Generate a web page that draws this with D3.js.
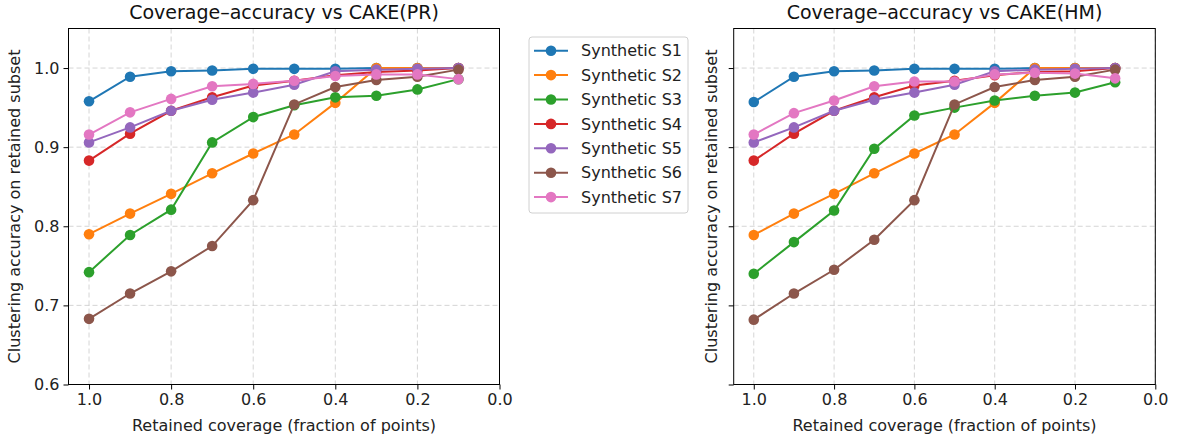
<!DOCTYPE html>
<html>
<head>
<meta charset="utf-8">
<script src="https://cdn.jsdelivr.net/npm/d3@7"></script>
<style>
  body { margin: 0; background: #fff; }
  svg { font-family: "DejaVu Sans", sans-serif; }
</style>
</head>
<body>
<svg id="chart" width="1193" height="439"></svg>
<script>
// coverage levels (x)
var coverage = [1.0, 0.9, 0.8, 0.7, 0.6, 0.5, 0.4, 0.3, 0.2, 0.1];
var seriesNames = ["Synthetic S1", "Synthetic S2", "Synthetic S3", "Synthetic S4", "Synthetic S5", "Synthetic S6", "Synthetic S7"];
var colors = ["#1f77b4", "#ff7f0e", "#2ca02c", "#d62728", "#9467bd", "#8c564b", "#e377c2"];
var xTicks = [1.0, 0.8, 0.6, 0.4, 0.2, 0.0];
var yTicks = [0.6, 0.7, 0.8, 0.9, 1.0];

// CAKE(PR)
var prS1 = [0.958, 0.989, 0.996, 0.997, 0.999, 0.999, 0.999, 1.0, 1.0, 1.0];
var prS2 = [0.790, 0.816, 0.841, 0.867, 0.892, 0.916, 0.956, 1.0, 1.0, 1.0];
var prS3 = [0.742, 0.789, 0.821, 0.906, 0.938, 0.953, 0.963, 0.965, 0.973, 0.986];
var prS4 = [0.883, 0.917, 0.946, 0.963, 0.978, 0.984, 0.991, 0.995, 0.997, 1.0];
var prS5 = [0.906, 0.925, 0.946, 0.960, 0.969, 0.979, 0.996, 0.998, 0.999, 1.0];
var prS6 = [0.683, 0.715, 0.743, 0.775, 0.833, 0.954, 0.976, 0.985, 0.989, 0.998];
var prS7 = [0.916, 0.944, 0.961, 0.977, 0.980, 0.984, 0.990, 0.992, 0.992, 0.986];

// CAKE(HM)
var hmS1 = [0.957, 0.989, 0.996, 0.997, 0.999, 0.999, 0.999, 1.0, 1.0, 1.0];
var hmS2 = [0.789, 0.816, 0.841, 0.867, 0.892, 0.916, 0.956, 1.0, 1.0, 1.0];
var hmS3 = [0.740, 0.780, 0.820, 0.898, 0.940, 0.950, 0.959, 0.965, 0.969, 0.982];
var hmS4 = [0.883, 0.917, 0.946, 0.963, 0.978, 0.984, 0.991, 0.995, 0.996, 1.0];
var hmS5 = [0.906, 0.925, 0.946, 0.960, 0.969, 0.979, 0.996, 0.998, 0.999, 1.0];
var hmS6 = [0.682, 0.715, 0.745, 0.783, 0.833, 0.954, 0.976, 0.985, 0.989, 0.998];
var hmS7 = [0.916, 0.943, 0.959, 0.977, 0.983, 0.983, 0.992, 0.994, 0.993, 0.987];

var svg = d3.select("#chart");

var plotTop = 28.5, plotBottom = 384.5;
var yScale = d3.scaleLinear().domain([0.6, 1.05]).range([plotBottom, plotTop]);

function drawPanel(left, right, title, data, showYLabels) {
    var xScale = d3.scaleLinear().domain([1.05, 0]).range([left, right]);
    var g = svg.append("g");

    // grid
    g.selectAll(".gx").data(xTicks).enter().append("line")
        .attr("x1", d => xScale(d)).attr("x2", d => xScale(d))
        .attr("y1", plotTop).attr("y2", plotBottom)
        .style("stroke", "#b0b0b0").style("stroke-opacity", 0.6)
        .style("stroke-width", 0.9).style("stroke-dasharray", "5,3");
    g.selectAll(".gy").data(yTicks).enter().append("line")
        .attr("x1", left).attr("x2", right)
        .attr("y1", d => yScale(d)).attr("y2", d => yScale(d))
        .style("stroke", "#b0b0b0").style("stroke-opacity", 0.6)
        .style("stroke-width", 0.9).style("stroke-dasharray", "5,3");

    // axes
    g.append("g")
        .attr("transform", `translate(0,${plotBottom})`)
        .call(d3.axisBottom(xScale).tickValues(xTicks).tickFormat(d3.format(".1f")).tickSizeOuter(0).tickSize(5).tickPadding(4));
    g.append("g")
        .attr("transform", `translate(${left},0)`)
        .call(d3.axisLeft(yScale).tickValues(yTicks).tickFormat(showYLabels ? d3.format(".1f") : "").tickSizeOuter(0).tickSize(5).tickPadding(4));
    g.selectAll(".domain").remove();
    g.selectAll(".tick line").style("stroke", "#000").style("stroke-width", 1);
    g.selectAll(".tick text").style("font-size", "16px").style("fill", "#222")
        .style("font-family", "DejaVu Sans");

    // frame
    g.append("rect")
        .attr("x", left).attr("y", plotTop)
        .attr("width", right - left).attr("height", plotBottom - plotTop)
        .style("fill", "none").style("stroke", "#000").style("stroke-width", 1);

    // lines and markers
    var line = d3.line()
        .x((d, i) => xScale(coverage[i]))
        .y(d => yScale(d));

    data.forEach(function(vals, k) {
        g.append("path")
            .datum(vals)
            .attr("d", line)
            .style("fill", "none")
            .style("stroke", colors[k])
            .style("stroke-width", 2);
        g.selectAll(".dot" + k)
            .data(vals)
            .enter().append("circle")
            .attr("cx", (d, i) => xScale(coverage[i]))
            .attr("cy", d => yScale(d))
            .attr("r", 5.3)
            .style("fill", colors[k]);
    });

    // title and labels
    g.append("text")
        .attr("x", (left + right) / 2).attr("y", 19)
        .attr("text-anchor", "middle")
        .style("font-size", "19px").style("fill", "#111")
        .text(title);
    g.append("text")
        .attr("x", (left + right) / 2).attr("y", 431)
        .attr("text-anchor", "middle")
        .style("font-size", "16px").style("fill", "#222")
        .text("Retained coverage (fraction of points)");
    var ylx = showYLabels ? 20 : left - 17;
    g.append("text")
        .attr("transform", `translate(${ylx},${(plotTop + plotBottom) / 2}) rotate(-90)`)
        .attr("text-anchor", "middle")
        .style("font-size", "16px").style("fill", "#222")
        .text("Clustering accuracy on retained subset");
}

drawPanel(68.5, 499.5, "Coverage\u2013accuracy vs CAKE(PR)", [prS1, prS2, prS3, prS4, prS5, prS6, prS7], true);
drawPanel(733.7, 1155.3, "Coverage\u2013accuracy vs CAKE(HM)", [hmS1, hmS2, hmS3, hmS4, hmS5, hmS6, hmS7], false);

// legend
var legend = svg.append("g");
legend.append("rect")
    .attr("x", 529).attr("y", 37)
    .attr("width", 159).attr("height", 176)
    .attr("rx", 3)
    .style("fill", "#fff").style("fill-opacity", 0.8)
    .style("stroke", "#d0d0d0").style("stroke-width", 1);

var items = legend.selectAll(".item")
    .data(seriesNames)
    .enter().append("g")
    .attr("transform", (d, i) => `translate(0,${50.7 + i * 24.4})`);
items.append("line")
    .attr("x1", 534).attr("x2", 568)
    .attr("y1", 0).attr("y2", 0)
    .style("stroke", (d, i) => colors[i]).style("stroke-width", 2);
items.append("circle")
    .attr("cx", 551).attr("cy", 0).attr("r", 5.3)
    .style("fill", (d, i) => colors[i]);
items.append("text")
    .attr("x", 581).attr("y", 0).attr("dy", "0.35em")
    .style("font-size", "16px").style("fill", "#222")
    .text(d => d);
</script>
</body>
</html>
